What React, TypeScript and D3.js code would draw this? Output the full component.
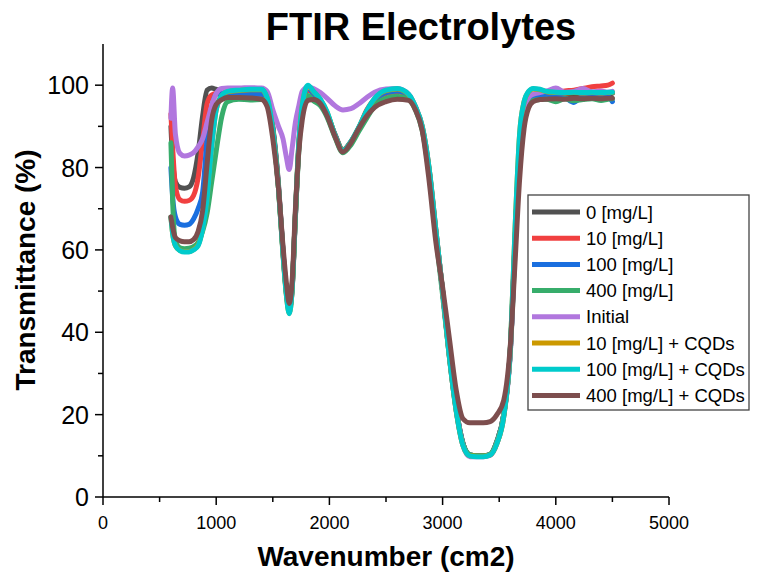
import React from "react";
import * as d3 from "d3";

// Wavenumber grid shared by every spectrum (cm-1)
const WAVENUMBER = [
  600, 615, 640, 680, 720, 760, 800, 840, 880, 920, 960, 1000, 1050, 1100,
  1200, 1300, 1400, 1450, 1500, 1550, 1590, 1620, 1645, 1670, 1700, 1730, 1760, 1810,
  1860, 1920, 1980, 2050, 2120, 2190, 2260, 2330, 2400, 2500, 2600, 2700,
  2760, 2820, 2880, 2940, 3000, 3060, 3120, 3180, 3240, 3300, 3360, 3420, 3480, 3540, 3600, 3640, 3680, 3720, 3760, 3800,
  3860, 3920, 4000, 4080, 4160, 4240, 4320, 4400, 4460, 4500,
];

// Transmittance (%) of each sample
const T_0 = [
  90, 82, 76.5, 75.2, 75, 75.3, 77.5, 83.5, 92.5, 98.8, 99.3, 99, 98.8, 98.8,
  98.8, 98.6, 98.5, 97.5, 90, 76, 60, 50, 45.5, 50, 68, 85, 95, 99.6,
  98, 96, 93, 88, 84.3, 86.3, 89.6, 93.4, 96.4, 98, 98.5, 97.4,
  94.5, 89.5, 79.5, 64.5, 50, 34.5, 21.5, 13, 10.2, 10, 10, 10.3, 13.5, 20, 36.5, 62, 85, 94, 96.5, 97.3,
  97.6, 97.8, 97.5, 97.9, 97.6, 98, 97.7, 98.1, 97.8, 98,
];
const T_10 = [
  93, 85, 75.5, 72.2, 71.8, 72, 73.2, 77.5, 86.5, 95.5, 97.6, 98, 98, 98,
  98, 97.9, 97.8, 97, 89.5, 75.5, 59.5, 49.5, 45.5, 50.5, 68.5, 85, 94.5, 98.8,
  97.8, 95.8, 92.8, 87.8, 84.2, 86.2, 89.6, 94, 96.6, 98, 98.4, 97.3,
  94.5, 89.5, 79.5, 64.5, 50, 34.5, 21.5, 13, 10.2, 10, 10, 10.3, 13.5, 20, 36.5, 62, 85, 94.5, 97, 97.8,
  98, 98.2, 98.3, 98.6, 98.8, 99.2, 99.6, 99.8, 100, 100.5,
];
const T_100 = [
  80, 73, 68, 66.2, 66, 66.2, 67.5, 70, 74, 87, 94.5, 97.8, 98, 98,
  97.9, 97.8, 97.8, 97, 89.5, 75.5, 59.5, 49.5, 45.5, 50.5, 68.5, 85.5, 95, 99.3,
  97.9, 95.9, 92.9, 87.9, 84, 86, 89.5, 93.2, 96.2, 98.2, 98.6, 97.5,
  94.6, 89.6, 79.5, 64.5, 50, 34.5, 21.5, 13, 10.2, 10, 10, 10.3, 13.5, 20, 36.5, 62, 85, 94.5, 96.8, 97.2,
  97.5, 97.3, 97.6, 97, 95.8, 97.4, 97.2, 97.5, 97.3, 96,
];
const T_400 = [
  86, 72, 62, 60.5, 60.3, 60.4, 60.8, 61.8, 64.5, 69, 76.5, 84, 92.5, 96,
  96.6, 96.4, 96.5, 95.8, 89, 75, 59.5, 50, 46, 51, 68.5, 84, 93.5, 97.5,
  96.2, 95, 92.2, 87.3, 83.6, 85.5, 88.8, 92, 95, 96.8, 97.3, 96.5,
  94, 89, 78.5, 63.5, 49, 34, 21, 13, 10.3, 10, 10, 10.4, 13.5, 20, 36, 60, 82, 92.5, 95.6, 96.3,
  96.5, 96.6, 96, 96.7, 96.2, 96.5, 96.7, 96.3, 96.6, 96.7,
];
const T_INITIAL = [
  92, 99.3, 88, 83.4, 82.8, 83, 83.6, 85, 87, 91, 95, 98, 99.2, 99.3,
  99.3, 99.4, 99.3, 98.5, 94, 90, 87, 82.5, 79.5, 84.5, 91, 95, 98.5, 99.5,
  99.2, 98.2, 96.8, 95, 94, 94.3, 95.5, 97, 98.3, 99.1, 99.2, 97.8,
  94.8, 90, 80, 65, 50, 34, 21, 12.5, 9.8, 9.8, 9.8, 10.1, 13, 19.5, 36, 62, 85, 94.5, 97, 97.8,
  98.2, 98.6, 99.3, 98.3, 98.5, 99.2, 98.4, 98.6, 98.3, 98.5,
];
const T_10_CQD = [
  68, 64, 61, 59.9, 59.6, 59.6, 60.1, 61.2, 65.2, 72.6, 85.2, 94, 97.5, 98.4,
  98.7, 98.9, 98.9, 96.9, 89, 75, 59, 49, 44.6, 50, 69, 86, 95, 99.8,
  98.4, 96.5, 93.4, 87.8, 84.2, 86.2, 89.7, 93.7, 96.7, 98.7, 99.1, 97.7,
  94.7, 90, 80, 65, 50, 34, 21, 12.5, 10, 9.9, 9.9, 10.2, 13, 19.5, 37, 65, 88, 96, 98.4, 99.1,
  98.9, 98.4, 98.2, 98.1, 98.2, 98.1, 98.2, 98.1, 98.2, 98.2,
];
const T_100_CQD = [
  68, 64, 61, 59.8, 59.5, 59.5, 60, 61, 65, 72.5, 85, 94, 97.5, 98.5,
  98.8, 99, 99, 97, 89, 75, 59, 49, 44.5, 50, 69, 86, 95, 100,
  98.5, 96.6, 93.5, 87.8, 84.2, 86.3, 89.8, 93.8, 96.8, 98.8, 99.2, 97.8,
  94.8, 90, 80, 65, 50, 34, 21, 12.5, 10, 9.8, 9.8, 10.2, 13, 19.5, 37, 65, 88, 96, 98.5, 99.2,
  99, 98.5, 98.3, 98.2, 98.3, 98.2, 98.3, 98.2, 98.3, 98.3,
];
const T_400_CQD = [
  68, 65.5, 63, 62.2, 62, 62, 62.5, 64.5, 69.5, 81, 91.5, 95.3, 96.5, 97,
  97, 96.9, 96.6, 94.8, 87, 75, 61, 52, 47, 52, 70, 84, 91.5, 96.3,
  96.5, 95.5, 92.5, 87.5, 83.8, 86, 89.5, 92.5, 94.6, 96, 96.6, 96.3,
  94, 89, 77, 62, 51, 38.5, 26, 19, 18, 18, 18, 18.3, 20, 23.5, 37.5, 57, 77, 89.5, 94.5, 96,
  96.5, 96.6, 96.7, 96.6, 96.8, 96.7, 96.8, 96.7, 96.8, 96.8,
];

const SERIES_NAMES = [
  "0 [mg/L]",
  "10 [mg/L]",
  "100 [mg/L]",
  "400 [mg/L]",
  "Initial",
  "10 [mg/L] + CQDs",
  "100 [mg/L] + CQDs",
  "400 [mg/L] + CQDs",
];
const SERIES_VALUES = [T_0, T_10, T_100, T_400, T_INITIAL, T_10_CQD, T_100_CQD, T_400_CQD];
const SERIES_COLORS = ["#515151", "#F14040", "#1A6FDF", "#37AD6B", "#B177DE", "#CC9900", "#00CBCC", "#7D4E4E"];

const X_TICKS = [0, 1000, 2000, 3000, 4000, 5000];
const X_MINOR = [500, 1500, 2500, 3500, 4500];
const Y_TICKS = [0, 20, 40, 60, 80, 100];
const Y_MINOR = [10, 30, 50, 70, 90];

const W = 773;
const H = 573;
const FONT = "Arial, 'Liberation Sans', sans-serif";

export default function App() {
  const x = d3.scaleLinear().domain([0, 5000]).range([103, 669]);
  const y = d3.scaleLinear().domain([0, 110]).range([497, 44]);

  const line = d3
    .line<number>()
    .x((_, i) => x(WAVENUMBER[i]))
    .y((d) => y(d))
    .curve(d3.curveMonotoneX);

  const legend = { x: 528, y: 195, w: 221, h: 215, row0: 212, step: 26.2 };

  return (
    <svg
      width={W}
      height={H}
      viewBox={`0 0 ${W} ${H}`}
      style={{ position: "absolute", left: 0, top: 0, display: "block", background: "#fff" }}
      fontFamily={FONT}
    >
      <rect x={0} y={0} width={W} height={H} fill="#fff" />

      {/* spectra */}
      <g fill="none" strokeWidth={5} strokeLinejoin="round" strokeLinecap="round">
        {SERIES_VALUES.map((vals, i) => (
          <path key={SERIES_NAMES[i]} d={line(vals) ?? ""} stroke={SERIES_COLORS[i]} />
        ))}
      </g>

      {/* axes */}
      <g stroke="#000" strokeWidth={1.5}>
        <line x1={x(0)} x2={x(5000)} y1={y(0)} y2={y(0)} />
        <line x1={x(0)} x2={x(0)} y1={y(0)} y2={y(110)} />
        {X_TICKS.map((t) => (
          <line key={"xt" + t} x1={x(t)} x2={x(t)} y1={y(0)} y2={y(0) + 8} />
        ))}
        {X_MINOR.map((t) => (
          <line key={"xm" + t} x1={x(t)} x2={x(t)} y1={y(0)} y2={y(0) + 5} />
        ))}
        {Y_TICKS.map((t) => (
          <line key={"yt" + t} x1={x(0) - 8} x2={x(0)} y1={y(t)} y2={y(t)} />
        ))}
        {Y_MINOR.map((t) => (
          <line key={"ym" + t} x1={x(0) - 5} x2={x(0)} y1={y(t)} y2={y(t)} />
        ))}
      </g>
      <g fill="#000" fontSize={18} textAnchor="middle">
        {X_TICKS.map((t) => (
          <text key={"xl" + t} x={x(t)} y={y(0) + 32}>
            {t}
          </text>
        ))}
      </g>
      <g fill="#000" fontSize={25} textAnchor="end">
        {Y_TICKS.map((t) => (
          <text key={"yl" + t} x={x(0) - 14} y={y(t) + 9}>
            {t}
          </text>
        ))}
      </g>

      {/* titles */}
      <text x={421} y={40} textAnchor="middle" fontSize={38} fontWeight="bold">
        FTIR Electrolytes
      </text>
      <text x={386} y={566} textAnchor="middle" fontSize={28} fontWeight="bold">
        Wavenumber (cm2)
      </text>
      <text
        transform={`translate(35,270) rotate(-90)`}
        textAnchor="middle"
        fontSize={28}
        fontWeight="bold"
      >
        Transmittance (%)
      </text>

      {/* legend */}
      <rect
        x={legend.x}
        y={legend.y}
        width={legend.w}
        height={legend.h}
        fill="#fff"
        stroke="#444"
        strokeWidth={1.3}
      />
      {SERIES_NAMES.map((name, i) => {
        const cy = legend.row0 + i * legend.step;
        return (
          <g key={"lg" + name}>
            <line x1={532} x2={580} y1={cy} y2={cy} stroke={SERIES_COLORS[i]} strokeWidth={5} />
            <text x={586} y={cy + 6.5} fontSize={18.5} fill="#000">
              {name}
            </text>
          </g>
        );
      })}
    </svg>
  );
}
